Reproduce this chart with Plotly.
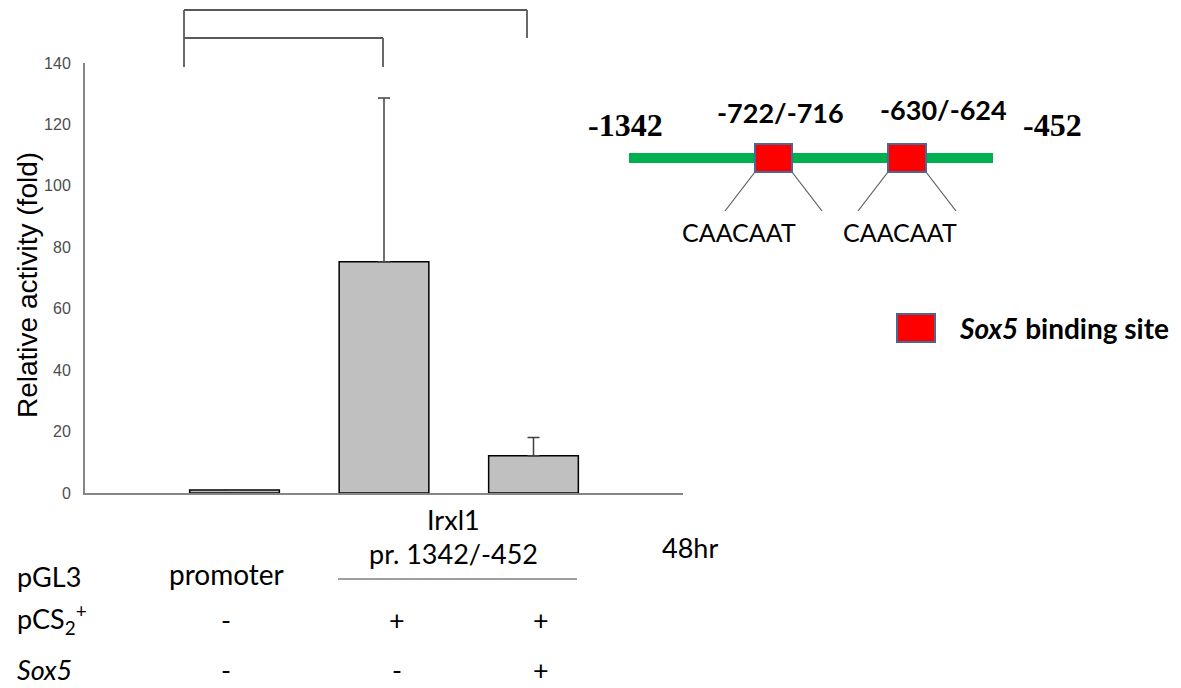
import plotly.graph_objects as go

# Luciferase reporter activity, 48 h
constructs = ["promoter", "Irxl1 pr. 1342/-452", "Irxl1 pr. 1342/-452 + Sox5"]
relative_activity = [1.0, 75.3, 12.1]
activity_sd = [None, 53.3, 6.0]
y_ticks = [0, 20, 40, 60, 80, 100, 120, 140]

# Co-transfection table under the bars
row_labels = ["pGL3", "pCS<sub>2</sub><sup>+</sup>", "<i>Sox5</i>"]
pcs2_row = ["-", "+", "+"]
sox5_row = ["-", "-", "+"]

# Promoter fragment map
fragment_ends = ["-1342", "-452"]
site_labels = ["-722/-716", "-630/-624"]
site_motifs = ["CAACAAT", "CAACAAT"]

W, H = 1181, 688
L, T, R, B = 85, 63, 683, 493
PW, PH = R - L, B - T


def px(x):
    return (x - L) / PW


def py(y):
    return (B - y) / PH


fig = go.Figure()
fig.add_trace(go.Bar(
    x=[0, 1, 2],
    y=relative_activity,
    width=0.6,
    marker=dict(color="#C0C0C0", line=dict(color="#000000", width=1.5)),
    error_y=dict(type="data", array=activity_sd, symmetric=False,
                 arrayminus=[0, 0, 0], color="#404040", thickness=1.5, width=6),
    hovertext=constructs,
    showlegend=False,
))

grey = "#595959"
shapes = []


def seg(x0, y0, x1, y1, color=grey, width=1.5):
    shapes.append(dict(type="line", xref="paper", yref="paper",
                       x0=px(x0), y0=py(y0), x1=px(x1), y1=py(y1),
                       line=dict(color=color, width=width)))


# comparison brackets above the bars
seg(184, 10, 527, 10, width=1.8)
seg(527, 10, 527, 38, width=1.8)
seg(184, 10, 184, 67, width=1.8)
seg(184, 38, 383, 38, width=1.8)
seg(383, 38, 383, 67, width=1.8)

# line under the Irxl1 construct name
seg(338, 579, 577, 579, color="#404040", width=1.2)

# fragment map: green backbone with two binding sites
seg(629, 158, 993, 158, color="#00B050", width=10)
site_boxes = [(755, 792), (888, 926)]
site_motif_x = [739, 900]
for (bx0, bx1) in site_boxes:
    seg(bx0, 172, bx0 - 30, 211, width=1.2)
    seg(bx1, 172, bx1 + 30, 211, width=1.2)
    shapes.append(dict(type="rect", xref="paper", yref="paper",
                       x0=px(bx0), x1=px(bx1), y0=py(172), y1=py(144),
                       fillcolor="#FF0000", line=dict(color="#4A6890", width=2)))

# legend box
shapes.append(dict(type="rect", xref="paper", yref="paper",
                   x0=px(897), x1=px(935), y0=py(342), y1=py(314),
                   fillcolor="#FF0000", line=dict(color="#4A6890", width=2)))

ann = []


def text(x, y, s, size, family="Lato", color="#000000", xanchor="center", angle=0):
    ann.append(dict(x=px(x), y=py(y), xref="paper", yref="paper", text=s,
                    showarrow=False, xanchor=xanchor, yanchor="middle",
                    textangle=angle,
                    font=dict(size=size, family=family, color=color)))


serif_bold = "Liberation Serif"
text(625, 125, "<b>%s</b>" % fragment_ends[0], 32, family=serif_bold)
text(1052, 125, "<b>%s</b>" % fragment_ends[1], 32, family=serif_bold)
text(780, 112, "<b>%s</b>" % site_labels[0], 27)
text(943, 110, "<b>%s</b>" % site_labels[1], 27)
for mx, motif in zip(site_motif_x, site_motifs):
    text(mx, 232, motif, 25)
text(957, 328, "<b><i>Sox5</i> binding site</b>", 28, xanchor="left")

# y axis title
text(27, 285, "Relative activity (fold)", 28, family="Liberation Sans", angle=-90)

# co-transfection table
row_y = [576, 619, 669]
for label, yy in zip(row_labels, row_y):
    text(15, yy, label, 27, xanchor="left")
col_x = [226, 397, 541]
text(col_x[0], 574, "promoter", 28)
text(453, 519, "Irxl1", 27)
text(453, 553, "pr. 1342/-452", 27)
text(690, 547, "48hr", 27)
for cx, a, b in zip(col_x, pcs2_row, sox5_row):
    text(cx, row_y[1], a, 27)
    text(cx, row_y[2], b, 27)

fig.update_layout(
    width=W, height=H,
    margin=dict(l=L, r=W - R, t=T, b=H - B, pad=0),
    paper_bgcolor="white", plot_bgcolor="white",
    shapes=shapes, annotations=ann,
    bargap=0.4,
    xaxis=dict(range=[-1, 3], showticklabels=False, ticks="", showgrid=False,
               zeroline=False, showline=True, linecolor="#868686", linewidth=2,
               fixedrange=True),
    yaxis=dict(range=[0, 140], tickvals=y_ticks, ticks="", showgrid=False,
               zeroline=False, showline=True, linecolor="#868686", linewidth=2,
               tickfont=dict(family="Liberation Sans", size=16, color="#4D4D4D"),
               ticklabelstandoff=9, fixedrange=True),
)

fig.write_html("out.html")
